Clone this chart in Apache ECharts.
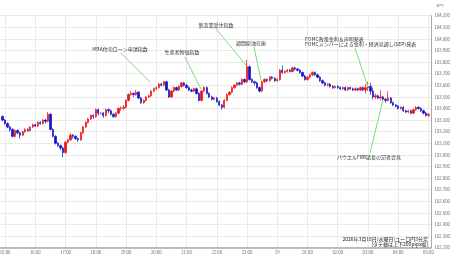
<!DOCTYPE html>
<html><head><meta charset="utf-8">
<script src="https://cdn.jsdelivr.net/npm/echarts@6/dist/echarts.min.js"></script>
<style>html,body{margin:0;padding:0;background:#fff}#c{width:450px;height:258px}</style>
</head><body><div id="c"></div>
<script>
// 5-minute candles, 14:55 .. 05:00 : [open, close, low, high]
const ohlc = [
[183.33,183.30,183.29,183.34],[183.30,183.27,183.26,183.31],[183.27,183.24,183.23,183.28],[183.24,183.22,183.20,183.25],
[183.22,183.16,183.15,183.23],[183.16,183.21,183.15,183.22],[183.21,183.19,183.18,183.22],[183.19,183.17,183.14,183.20],
[183.17,183.20,183.16,183.21],[183.20,183.22,183.19,183.23],[183.22,183.21,183.20,183.23],[183.21,183.24,183.20,183.25],
[183.24,183.26,183.23,183.27],[183.26,183.25,183.24,183.27],[183.25,183.28,183.24,183.29],[183.28,183.27,183.26,183.29],
[183.27,183.30,183.26,183.31],[183.30,183.29,183.27,183.31],[183.29,183.35,183.28,183.37],[183.35,183.22,183.21,183.36],
[183.22,183.16,183.15,183.23],[183.16,183.10,183.09,183.17],[183.10,183.08,183.07,183.11],[183.08,183.06,183.04,183.09],
[183.06,183.02,182.98,183.07],[183.02,183.11,183.01,183.12],[183.11,183.13,183.10,183.14],[183.13,183.17,183.12,183.19],
[183.17,183.16,183.14,183.18],[183.16,183.14,183.13,183.17],[183.14,183.13,183.11,183.15],[183.13,183.19,183.12,183.20],
[183.19,183.24,183.18,183.25],[183.24,183.28,183.23,183.29],[183.28,183.31,183.27,183.32],[183.31,183.34,183.30,183.35],
[183.34,183.33,183.31,183.35],[183.33,183.39,183.32,183.40],[183.39,183.36,183.34,183.40],[183.36,183.36,183.35,183.37],
[183.36,183.34,183.32,183.37],[183.34,183.39,183.33,183.40],[183.39,183.38,183.36,183.40],[183.38,183.35,183.34,183.39],
[183.35,183.33,183.32,183.36],[183.33,183.36,183.32,183.37],[183.36,183.40,183.35,183.41],[183.40,183.40,183.38,183.42],
[183.40,183.41,183.39,183.43],[183.41,183.47,183.40,183.48],[183.47,183.52,183.46,183.53],[183.52,183.53,183.51,183.55],
[183.53,183.52,183.50,183.54],[183.52,183.54,183.51,183.56],[183.54,183.49,183.48,183.55],[183.49,183.45,183.44,183.50],
[183.45,183.47,183.44,183.48],[183.47,183.50,183.46,183.51],[183.50,183.51,183.49,183.52],[183.51,183.55,183.50,183.56],
[183.55,183.57,183.54,183.58],[183.57,183.58,183.56,183.59],[183.58,183.61,183.57,183.62],[183.61,183.60,183.59,183.62],
[183.60,183.63,183.59,183.64],[183.63,183.56,183.55,183.64],[183.56,183.50,183.49,183.57],[183.50,183.55,183.49,183.56],
[183.55,183.58,183.54,183.59],[183.58,183.56,183.55,183.59],[183.56,183.59,183.55,183.60],[183.59,183.62,183.58,183.63],
[183.62,183.60,183.59,183.63],[183.60,183.58,183.57,183.61],[183.58,183.56,183.55,183.59],[183.56,183.55,183.54,183.57],
[183.55,183.57,183.54,183.58],[183.57,183.53,183.52,183.58],[183.53,183.47,183.46,183.54],[183.47,183.55,183.46,183.56],
[183.55,183.58,183.54,183.59],[183.58,183.53,183.52,183.59],[183.53,183.50,183.49,183.54],[183.50,183.48,183.47,183.51],
[183.48,183.49,183.47,183.50],[183.49,183.46,183.45,183.50],[183.46,183.43,183.42,183.47],[183.43,183.41,183.39,183.44],
[183.41,183.47,183.40,183.48],[183.47,183.52,183.46,183.53],[183.52,183.54,183.51,183.55],[183.54,183.58,183.53,183.59],
[183.58,183.60,183.57,183.61],[183.60,183.62,183.59,183.63],[183.62,183.61,183.60,183.63],[183.61,183.65,183.60,183.66],
[183.65,183.63,183.62,183.66],[183.63,183.76,183.62,183.82],[183.76,183.65,183.64,183.77],[183.65,183.63,183.62,183.66],
[183.63,183.62,183.60,183.64],[183.62,183.58,183.57,183.63],[183.58,183.55,183.54,183.59],[183.55,183.63,183.54,183.64],
[183.63,183.65,183.62,183.66],[183.65,183.64,183.63,183.66],[183.64,183.67,183.63,183.68],[183.67,183.66,183.65,183.68],
[183.66,183.64,183.63,183.67],[183.64,183.65,183.63,183.66],[183.65,183.73,183.64,183.74],[183.73,183.71,183.70,183.77],
[183.71,183.72,183.70,183.73],[183.72,183.73,183.71,183.74],[183.73,183.72,183.71,183.74],[183.72,183.75,183.71,183.76],
[183.75,183.74,183.73,183.76],[183.74,183.73,183.72,183.75],[183.73,183.71,183.70,183.74],[183.71,183.68,183.67,183.72],
[183.68,183.65,183.64,183.69],[183.65,183.67,183.64,183.68],[183.67,183.69,183.66,183.70],[183.69,183.71,183.68,183.72],
[183.71,183.69,183.68,183.72],[183.69,183.67,183.66,183.70],[183.67,183.64,183.63,183.68],[183.64,183.62,183.61,183.65],
[183.62,183.60,183.59,183.63],[183.60,183.61,183.59,183.62],[183.61,183.59,183.58,183.62],[183.59,183.58,183.57,183.60],
[183.58,183.59,183.57,183.60],[183.59,183.58,183.57,183.60],[183.58,183.57,183.56,183.59],[183.57,183.58,183.56,183.59],
[183.58,183.56,183.55,183.59],[183.56,183.58,183.55,183.59],[183.58,183.57,183.56,183.59],[183.57,183.56,183.55,183.58],
[183.56,183.57,183.55,183.58],[183.57,183.56,183.55,183.58],[183.56,183.58,183.55,183.59],[183.58,183.56,183.55,183.59],
[183.56,183.58,183.53,183.61],[183.58,183.59,183.55,183.63],[183.59,183.55,183.52,183.62],[183.55,183.50,183.48,183.58],
[183.50,183.51,183.48,183.53],[183.51,183.49,183.48,183.52],[183.49,183.50,183.47,183.56],[183.50,183.48,183.47,183.51],
[183.48,183.47,183.45,183.49],[183.47,183.49,183.46,183.55],[183.49,183.45,183.44,183.50],[183.45,183.43,183.42,183.46],
[183.43,183.42,183.41,183.44],[183.42,183.40,183.39,183.43],[183.40,183.41,183.39,183.42],[183.41,183.38,183.37,183.42],
[183.38,183.37,183.36,183.39],[183.37,183.38,183.36,183.39],[183.38,183.36,183.35,183.39],[183.36,183.39,183.35,183.40],
[183.39,183.41,183.38,183.42],[183.41,183.40,183.39,183.42],[183.40,183.38,183.37,183.41],[183.38,183.36,183.35,183.39],
[183.36,183.34,183.33,183.37],[183.34,183.35,183.33,183.36]
];
const startTime = '14:50';   // first slot (empty), candles start at 14:55
const slotCount = 172;       // 14:50 .. 05:05
const yMin = 182.2, yMax = 184.2, yStep = 0.1;
const dateLabel = '19';
const annotations = [
  {text:'MBA住宅ローン申請指数', tx:120, ty:49, x1:121, y1:53, x2:150, y2:82},
  {text:'生産者物価指数', tx:182, ty:52, x1:185, y1:57, x2:201, y2:89},
  {text:'製造業受注指数', tx:216, ty:25, x1:216, y1:29, x2:246, y2:65},
  {text:'週間原油在庫', tx:251, ty:43, x1:254, y1:47, x2:261, y2:80},
  {text:'パウエルFRB議長の記者会見', tx:369, ty:157, x1:370, y1:153, x2:383, y2:100}
];
const fomcLines = ['FOMC政策金利＆声明発表','FOMCメンバーによる金利・経済見通し(SEP)発表'];
const footer = ['2026年3月18日(水曜日)ユーロ円5分足','[タテ軸は上下200pips幅]'];

const cats = [];
let [hh, mm] = startTime.split(':').map(Number);
for (let k = 0; k < slotCount; k++) {
  cats.push(String(hh).padStart(2,'0') + ':' + String(mm).padStart(2,'0'));
  mm += 5; if (mm >= 60) { mm -= 60; hh = (hh + 1) % 24; }
}
const seriesData = ['-'].concat(ohlc).concat(['-']);

const FONT = '"Noto Sans CJK JP", "Noto Sans", sans-serif';
const chart = echarts.init(document.getElementById('c'), null, {renderer:'canvas'});
const graphics = [];
annotations.forEach(a => {
  graphics.push({type:'line', shape:{x1:a.x1,y1:a.y1,x2:a.x2,y2:a.y2}, style:{stroke:'#77e077', lineWidth:1}, z:10});
  graphics.push({type:'text', x:a.tx, y:a.ty, style:{text:a.text, font:'5px '+FONT, fill:'#333', align:'center', verticalAlign:'middle'}, z:11});
});
graphics.push({type:'line', shape:{x1:355,y1:48,x2:368,y2:87}, style:{stroke:'#77e077', lineWidth:1}, z:10});
graphics.push({type:'text', x:305, y:39, style:{text:fomcLines[0], font:'5px '+FONT, fill:'#333', align:'left', verticalAlign:'middle'}, z:11});
graphics.push({type:'text', x:305, y:44.5, style:{text:fomcLines[1], font:'5px '+FONT, fill:'#333', align:'left', verticalAlign:'middle'}, z:11});
graphics.push({type:'text', x:428, y:239, style:{text:footer[0], font:'5px '+FONT, fill:'#222', align:'right', verticalAlign:'middle'}, z:11});
graphics.push({type:'text', x:428, y:244.5, style:{text:footer[1], font:'5px '+FONT, fill:'#222', align:'right', verticalAlign:'middle'}, z:11});

chart.setOption({
  animation:false,
  backgroundColor:'#fff',
  grid:{left:0, right:19, top:15.7, bottom:10.3, containLabel:false, outerBoundsMode:'none'},
  xAxis:{
    type:'category', data:cats, boundaryGap:false,
    axisLine:{show:true, lineStyle:{color:'#aaa', width:1.5}},
    axisTick:{show:false},
    axisLabel:{
      interval:(i,v)=>v.endsWith(':00'),
      formatter:(v)=> v==='00:00' ? dateLabel : v,
      fontSize:4.3, color:'#666', margin:3, fontFamily:FONT
    },
    splitLine:{show:true, interval:(i,v)=>v.endsWith(':00'), lineStyle:{color:'#eaeaea', width:1}}
  },
  yAxis:{
    type:'value', position:'right', min:yMin, max:yMax, interval:yStep, scale:true,
    name:'JPY', nameLocation:'end', nameGap:8, nameTextStyle:{fontSize:4.3, color:'#666', align:'left', padding:[0,0,0,5]},
    axisLine:{show:true, lineStyle:{color:'#aaa', width:1}},
    axisTick:{show:false},
    axisLabel:{fontSize:4.3, color:'#666', margin:3.5, formatter:v=>v.toFixed(3), fontFamily:FONT},
    splitLine:{show:true, lineStyle:{color:'#eaeaea', width:1}}
  },
  series:[{
    type:'candlestick', data:seriesData, barWidth:1.8,
    itemStyle:{color:'#ee1111', color0:'#1111cc', borderColor:'#ee1111', borderColor0:'#1111cc', borderWidth:0.7}
  }],
  graphic:graphics
});
</script></body></html>
